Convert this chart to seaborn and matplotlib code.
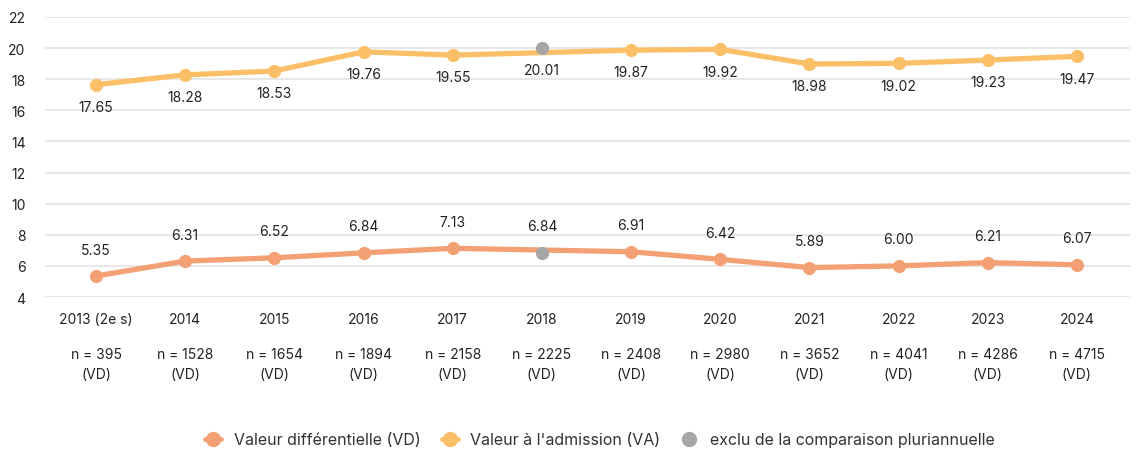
import matplotlib
matplotlib.use("Agg")
import matplotlib.pyplot as plt
import seaborn as sns
import pandas as pd
from matplotlib.lines import Line2D

years = ["2013 (2e s)", "2014", "2015", "2016", "2017", "2018", "2019",
         "2020", "2021", "2022", "2023", "2024"]
n_counts = [395, 1528, 1654, 1894, 2158, 2225, 2408, 2980, 3652, 4041, 4286, 4715]
vd_values = [5.35, 6.31, 6.52, 6.84, 7.13, 6.84, 6.91, 6.42, 5.89, 6.00, 6.21, 6.07]
va_values = [17.65, 18.28, 18.53, 19.76, 19.55, 20.01, 19.87, 19.92, 18.98, 19.02, 19.23, 19.47]
excluded_year = "2018"

c_vd = "#F4A075"
c_va = "#FBBF68"
c_ex = "#A6A6A6"
c_txt = "#222222"

sns.set_theme(style="white")
plt.rcParams["font.family"] = ["Inter", "DejaVu Sans"]

df = pd.DataFrame({"year": years, "n": n_counts, "vd": vd_values, "va": va_values})
df["pos"] = range(len(df))
df["excluded"] = df["year"] == excluded_year
inc = df[~df["excluded"]]
exc = df[df["excluded"]]

fig = plt.figure(figsize=(11.37, 4.52), dpi=100)
ax = fig.add_axes([45/1137, 1 - 298/452, (1130-45)/1137, 280/452])

lw = 3.8
ms = 9.5
sns.lineplot(data=inc, x="pos", y="va", ax=ax, color=c_va, linewidth=lw,
             marker="o", markersize=ms, markeredgewidth=0, zorder=3)
sns.lineplot(data=inc, x="pos", y="vd", ax=ax, color=c_vd, linewidth=lw,
             marker="o", markersize=ms, markeredgewidth=0, zorder=3)
sns.scatterplot(data=exc, x="pos", y="va", ax=ax, color=c_ex, s=ms**2,
                linewidth=0, zorder=4)
sns.scatterplot(data=exc, x="pos", y="vd", ax=ax, color=c_ex, s=ms**2,
                linewidth=0, zorder=4)

fs = 10
for _, r in df.iterrows():
    ax.annotate(f"{r['va']:.2f}", (r["pos"], r["va"]), xytext=(0, -16),
                textcoords="offset points", ha="center", va="center",
                fontsize=fs, color=c_txt, zorder=5)
    ax.annotate(f"{r['vd']:.2f}", (r["pos"], r["vd"]), xytext=(0, 19),
                textcoords="offset points", ha="center", va="center",
                fontsize=fs, color=c_txt, zorder=5)

ax.set_ylim(4, 22)
ax.set_yticks(range(4, 23, 2))
ax.set_xlim(-(96-45)/89.18, 11 + (1130-1077)/89.18)
ax.set_xticks(df["pos"])
ax.set_xticklabels([])
ax.set_xlabel("")
ax.set_ylabel("")
ax.grid(axis="y", color="#E6E6E6", linewidth=1.3)
ax.set_axisbelow(True)
for s in ax.spines.values():
    s.set_visible(False)
ax.tick_params(axis="y", length=0, pad=14, labelsize=fs, labelcolor=c_txt)
ax.tick_params(axis="x", length=0)
for lab in ax.get_yticklabels():
    lab.set_horizontalalignment("right")

trans = ax.get_xaxis_transform()
for _, r in df.iterrows():
    ax.text(r["pos"], -22/280, r["year"], transform=trans, ha="center",
            va="center", fontsize=fs, color=c_txt)
    ax.text(r["pos"], -57/280, f"n = {r['n']}", transform=trans, ha="center",
            va="center", fontsize=fs, color=c_txt)
    ax.text(r["pos"], -77/280, "(VD)", transform=trans, ha="center",
            va="center", fontsize=fs, color=c_txt)

handles = [
    Line2D([], [], color=c_vd, marker="o", markersize=10, linewidth=3.5),
    Line2D([], [], color=c_va, marker="o", markersize=10, linewidth=3.5),
    Line2D([], [], color=c_ex, marker="o", markersize=10, linewidth=0),
]
labels = ["Valeur différentielle (VD)", "Valeur à l'admission (VA)",
          "exclu de la comparaison pluriannuelle"]
fig.legend(handles, labels, loc="center", bbox_to_anchor=(600/1137, 1 - 441/452),
           ncol=3, frameon=False, fontsize=11.5, handlelength=1.0,
           handletextpad=0.8, columnspacing=1.3, labelcolor="#333333")

fig.savefig("out.png", dpi=100)
